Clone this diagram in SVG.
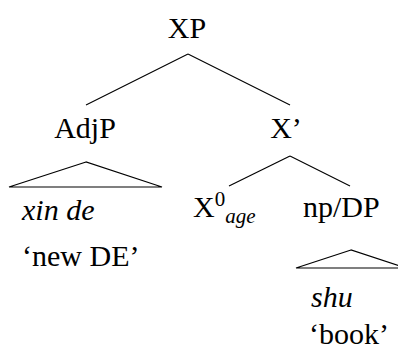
<svg xmlns="http://www.w3.org/2000/svg" width="398" height="356" viewBox="0 0 398 356">
<style>
line,polygon{stroke:#000;stroke-width:1.2;fill:none}
</style>
<rect width="398" height="356" fill="#fff"/>
<g id="connectors">
<line x1="188" y1="54" x2="86" y2="105"/>
<line x1="188" y1="54" x2="290" y2="105"/>
<polygon points="86,162 9,187 162,187"/>
<line x1="290" y1="156" x2="229" y2="186"/>
<line x1="290" y1="156" x2="350" y2="186"/>
<polygon points="351,250 296,268 406,268"/>
</g>
<g font-family="Liberation Serif, Tinos, DejaVu Serif, Times New Roman, serif" font-size="30" fill="#000">
<g id="XP"><text x="187" y="38" text-anchor="middle">XP</text></g>
<g id="AdjP"><text x="85" y="138" text-anchor="middle">AdjP</text></g>
<g id="Xbar"><text x="286" y="138" text-anchor="middle">X’</text></g>
<g id="xinde"><text font-style="italic" x="22" y="220">xin de</text></g>
<g id="newDE"><text x="22" y="266">‘new DE’</text></g>
<g id="X0age"><text x="193" y="217">X<tspan font-size="21" dy="-11">0</tspan><tspan font-size="21" font-style="italic" dy="17">age</tspan></text></g>
<g id="npDP"><text x="303" y="217">np/DP</text></g>
<g id="shu"><text font-style="italic" x="311" y="307">shu</text></g>
<g id="book"><text x="309" y="344">‘book’</text></g>
</g>
</svg>
